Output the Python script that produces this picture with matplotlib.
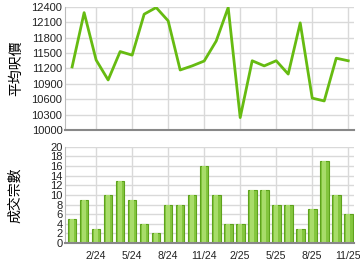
import matplotlib
matplotlib.use("Agg")
import matplotlib.pyplot as plt
import numpy as np

# Dec 2023 .. Nov 2025
months = ["12/23", "1/24", "2/24", "3/24", "4/24", "5/24", "6/24", "7/24", "8/24",
          "9/24", "10/24", "11/24", "12/24", "1/25", "2/25", "3/25", "4/25", "5/25",
          "6/25", "7/25", "8/25", "9/25", "10/25", "11/25"]
avg_price = [11230, 12290, 11365, 10975, 11530, 11460, 12260, 12390, 12130,
             11170, 11250, 11345, 11735, 12390, 10240, 11350, 11250, 11350,
             11090, 12090, 10620, 10565, 11400, 11350]
deals = [5, 9, 3, 10, 13, 9, 4, 2, 8, 8, 10, 16, 10, 4, 4, 11, 11, 8, 8, 3, 7, 17, 10, 6]
tick_labels = ["2/24", "5/24", "8/24", "11/24", "2/25", "5/25", "8/25", "11/25"]

plt.rcParams["font.family"] = ["Liberation Sans", "Noto Sans CJK TC", "DejaVu Sans"]

x = np.arange(len(months))
tick_pos = [months.index(t) for t in tick_labels]

fig = plt.figure(figsize=(3.6, 2.7), dpi=100)
ax1 = fig.add_axes([0.181, 0.519, 0.803, 0.455])
ax2 = fig.add_axes([0.181, 0.10, 0.803, 0.356])

grid_c = "#d9d9d9"
for ax in (ax1, ax2):
    ax.set_xlim(-0.58, 23.5)
    ax.set_xticks(tick_pos)
    ax.grid(True, color=grid_c, linewidth=1.0)
    ax.set_axisbelow(True)
    for s in ("top", "right"):
        ax.spines[s].set_visible(False)
    ax.spines["left"].set_color("#bbbbbb")
    ax.spines["bottom"].set_color("#888888")
    ax.spines["bottom"].set_linewidth(1.5)
    ax.tick_params(length=0, labelsize=8, colors="#222222", pad=2)

ax1.plot(x, avg_price, color="#66bb11", linewidth=2)
ax1.set_ylim(10000, 12400)
ax1.set_yticks(range(10000, 12401, 300))
ax1.set_xticklabels([])
ax1.set_ylabel("平均呎價", fontsize=10, family=["Noto Sans CJK TC"], labelpad=6)

ax2.bar(x, deals, width=0.72, color="#84c63e", edgecolor="#5ea21c", linewidth=0.8)
ax2.bar(x, deals, width=0.3, color="#a8dc6a", linewidth=0)
ax2.set_ylim(0, 20)
ax2.set_yticks(range(0, 21, 2))
ax2.set_xticklabels(tick_labels, fontsize=7.6)
ax2.tick_params(axis="x", pad=6)
ax2.set_ylabel("成交宗數", fontsize=10, family=["Noto Sans CJK TC"], labelpad=20)

fig.savefig("out.png", dpi=100)
